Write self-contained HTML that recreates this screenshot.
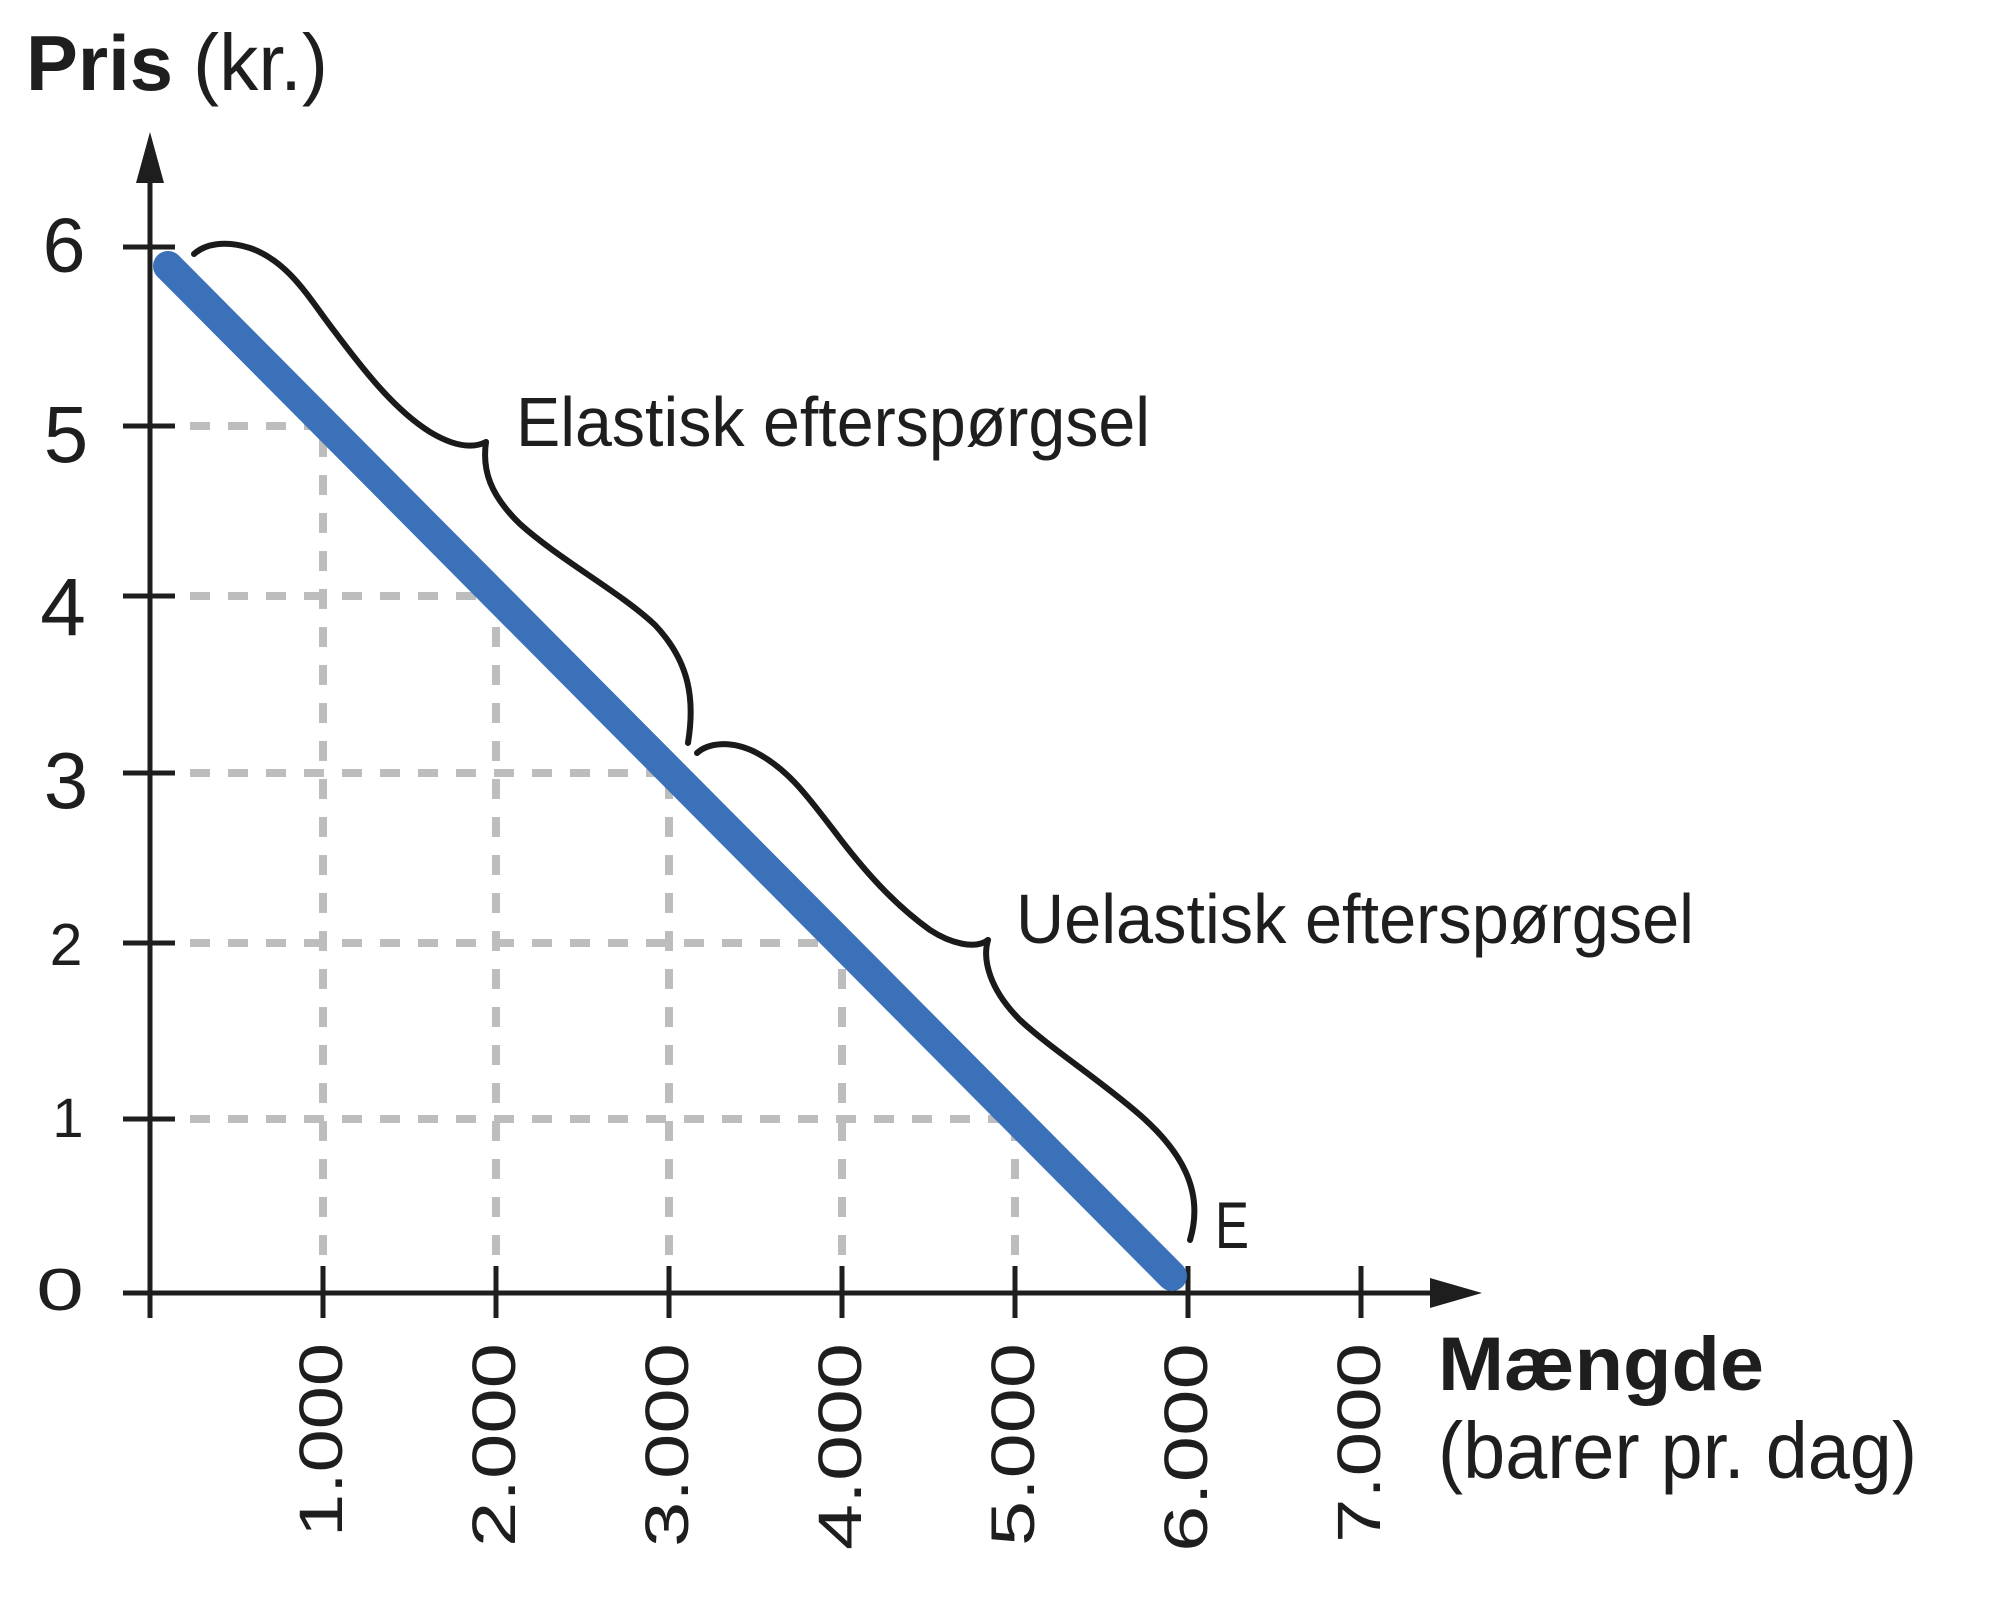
<!DOCTYPE html>
<html>
<head>
<meta charset="utf-8">
<style>
  html, body { margin: 0; padding: 0; background: #ffffff; }
  svg { display: block; }
  text { font-family: "Liberation Sans", "DejaVu Sans", sans-serif; fill: #1e1e1e; }
</style>
</head>
<body>
<svg width="2000" height="1618" viewBox="0 0 2000 1618" xmlns="http://www.w3.org/2000/svg">
  <rect x="0" y="0" width="2000" height="1618" fill="#ffffff"/>

  <!-- Title -->
  <text x="26" y="90" font-size="78" font-weight="bold" textLength="147" lengthAdjust="spacingAndGlyphs">Pris</text>
  <text x="193" y="90" font-size="80" textLength="135" lengthAdjust="spacingAndGlyphs">(kr.)</text>

  <!-- Dashed grid (horizontal) -->
  <g stroke="#bdbdbd" stroke-width="8" stroke-dasharray="20 18" fill="none">
    <line x1="190" y1="426" x2="323" y2="426"/>
    <line x1="190" y1="596" x2="496" y2="596"/>
    <line x1="190" y1="773" x2="669" y2="773"/>
    <line x1="190" y1="943" x2="842" y2="943"/>
    <line x1="190" y1="1119" x2="1015" y2="1119"/>
  </g>
  <!-- Dashed grid (vertical) -->
  <g stroke="#bdbdbd" stroke-width="8" stroke-dasharray="20 18" fill="none">
    <line x1="323" y1="1255" x2="323" y2="426"/>
    <line x1="496" y1="1255" x2="496" y2="596"/>
    <line x1="669" y1="1255" x2="669" y2="773"/>
    <line x1="842" y1="1255" x2="842" y2="943"/>
    <line x1="1015" y1="1255" x2="1015" y2="1119"/>
  </g>

  <!-- Axes -->
  <g stroke="#1e1e1e" stroke-width="5" fill="none" stroke-linecap="butt">
    <line x1="150" y1="1318" x2="150" y2="170"/>
    <line x1="123" y1="1293" x2="1440" y2="1293"/>
    <!-- y ticks -->
    <line x1="123" y1="247" x2="175" y2="247"/>
    <line x1="123" y1="426" x2="175" y2="426"/>
    <line x1="123" y1="596" x2="175" y2="596"/>
    <line x1="123" y1="773" x2="175" y2="773"/>
    <line x1="123" y1="943" x2="175" y2="943"/>
    <line x1="123" y1="1119" x2="175" y2="1119"/>
    <!-- x ticks -->
    <line x1="323" y1="1266" x2="323" y2="1318"/>
    <line x1="496" y1="1266" x2="496" y2="1318"/>
    <line x1="669" y1="1266" x2="669" y2="1318"/>
    <line x1="842" y1="1266" x2="842" y2="1318"/>
    <line x1="1015" y1="1266" x2="1015" y2="1318"/>
    <line x1="1188" y1="1266" x2="1188" y2="1318"/>
    <line x1="1361" y1="1266" x2="1361" y2="1318"/>
  </g>
  <polygon points="150,132 136,183 164,183" fill="#1e1e1e"/>
  <polygon points="1482,1293 1430,1278 1430,1308" fill="#1e1e1e"/>

  <!-- Demand line -->
  <line x1="168" y1="266" x2="1172" y2="1276" stroke="#3a71b8" stroke-width="30" stroke-linecap="round"/>

  <!-- Braces -->
  <g stroke="#1a1a1a" stroke-width="6" fill="none" stroke-linecap="round" stroke-linejoin="round">
    <path d="M194,254 C205,244 225,240 250,248 C290,262 310,300 335,332 C365,372 395,410 430,432 C450,444 470,450 486,442"/>
    <path d="M486,442 C482,470 490,495 520,524 C560,560 620,592 655,625 C690,662 695,700 688,743"/>
    <path d="M697,753 C708,743 730,740 755,752 C790,770 810,800 835,832 C865,872 895,905 930,930 C950,943 975,950 988,940"/>
    <path d="M988,940 C982,960 990,990 1020,1020 C1050,1048 1100,1080 1140,1115 C1180,1150 1205,1190 1190,1240"/>
  </g>

  <!-- Annotations -->
  <text x="516" y="446" font-size="70" textLength="634" lengthAdjust="spacingAndGlyphs">Elastisk efterspørgsel</text>
  <text x="1016" y="943" font-size="70" textLength="678" lengthAdjust="spacingAndGlyphs">Uelastisk efterspørgsel</text>
  <text x="1215" y="1248" font-size="66" textLength="34" lengthAdjust="spacingAndGlyphs">E</text>

  <!-- Y labels -->
  <text x="64" y="272" font-size="77" text-anchor="middle">6</text>
  <text x="66" y="462" font-size="80" text-anchor="middle">5</text>
  <text x="63" y="635" font-size="82" text-anchor="middle">4</text>
  <text x="66" y="808" font-size="80" text-anchor="middle">3</text>
  <text x="66" y="965" font-size="59" text-anchor="middle">2</text>
  <text x="68" y="1137" font-size="56" text-anchor="middle">1</text>
  <text transform="translate(60,1310) scale(1.45,1)" font-size="59" text-anchor="middle">0</text>

  <!-- X labels (rotated) -->
  <text transform="translate(342,1537) rotate(-90)" font-size="61" textLength="194" lengthAdjust="spacingAndGlyphs">1.000</text>
  <text transform="translate(515,1547) rotate(-90)" font-size="61" textLength="204" lengthAdjust="spacingAndGlyphs">2.000</text>
  <text transform="translate(688,1547) rotate(-90)" font-size="61" textLength="204" lengthAdjust="spacingAndGlyphs">3.000</text>
  <text transform="translate(861,1550) rotate(-90)" font-size="61" textLength="207" lengthAdjust="spacingAndGlyphs">4.000</text>
  <text transform="translate(1034,1546) rotate(-90)" font-size="61" textLength="203" lengthAdjust="spacingAndGlyphs">5.000</text>
  <text transform="translate(1207,1552) rotate(-90)" font-size="61" textLength="209" lengthAdjust="spacingAndGlyphs">6.000</text>
  <text transform="translate(1380,1543) rotate(-90)" font-size="61" textLength="200" lengthAdjust="spacingAndGlyphs">7.000</text>

  <!-- X axis title -->
  <text x="1438" y="1390" font-size="76" font-weight="bold" textLength="326" lengthAdjust="spacingAndGlyphs">Mængde</text>
  <text x="1438" y="1478" font-size="80" textLength="479" lengthAdjust="spacingAndGlyphs">(barer pr. dag)</text>
</svg>
</body>
</html>
